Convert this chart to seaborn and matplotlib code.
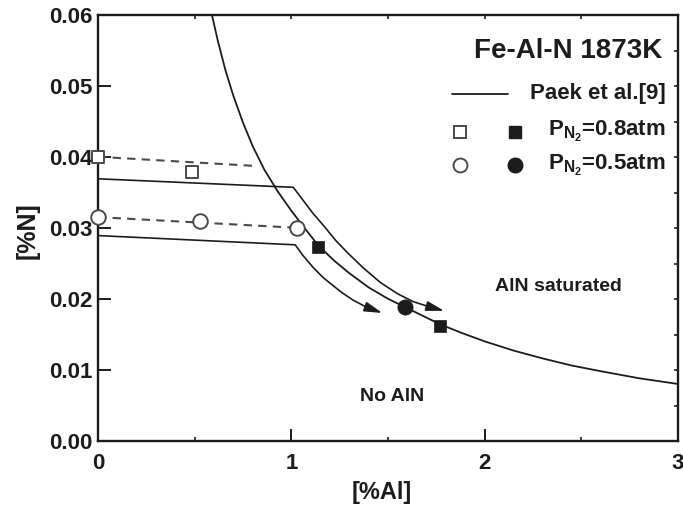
import matplotlib
matplotlib.use("Agg")
import matplotlib.pyplot as plt
import seaborn as sns
from matplotlib.lines import Line2D

# AlN solubility boundary
sat_al = [0.59, 0.62, 0.66, 0.70, 0.75, 0.80, 0.86, 0.93, 1.00, 1.07, 1.14,
          1.22, 1.30, 1.40, 1.50, 1.59, 1.68, 1.77, 1.88, 2.00, 2.15, 2.30,
          2.45, 2.60, 2.80, 3.00]
sat_n = [0.0600, 0.0564, 0.0522, 0.0487, 0.0449, 0.0416, 0.0383, 0.0352,
         0.0325, 0.0300, 0.0276, 0.0255, 0.0237, 0.0217, 0.0201, 0.0189,
         0.0177, 0.0165, 0.0153, 0.0141, 0.0128, 0.0117, 0.0107, 0.0099,
         0.0089, 0.0081]

# Paek et al. [9] paths (last point is the arrow tip)
paek_hi_al = [0.0, 1.01, 1.06, 1.11, 1.17, 1.23, 1.29, 1.37, 1.46, 1.55,
              1.63, 1.71, 1.79]
paek_hi_n = [0.0370, 0.0358, 0.0340, 0.0322, 0.0303, 0.0283, 0.0266, 0.0245,
             0.0224, 0.0208, 0.0197, 0.0190, 0.0184]
paek_lo_al = [0.0, 1.02, 1.06, 1.11, 1.16, 1.20, 1.26, 1.32, 1.39, 1.47]
paek_lo_n = [0.0290, 0.0277, 0.0262, 0.0246, 0.0232, 0.0223, 0.0210, 0.0199,
             0.0189, 0.0181]

# P_N2 = 0.8 atm
open_sq_al = [0.0, 0.485]
open_sq_n = [0.0401, 0.0379]
trend_sq_al = [0.0, 0.82]
trend_sq_n = [0.0401, 0.0388]
fill_sq_al = [1.14, 1.77]
fill_sq_n = [0.0274, 0.0163]

# P_N2 = 0.5 atm
open_ci_al = [0.0, 0.528, 1.028]
open_ci_n = [0.0316, 0.0311, 0.0301]
trend_ci_al = [0.0, 1.028]
trend_ci_n = [0.0316, 0.0301]
fill_ci_al = [1.589]
fill_ci_n = [0.0190]

x_ticks = [0, 1, 2, 3]
y_ticks = [0.00, 0.01, 0.02, 0.03, 0.04, 0.05, 0.06]

sns.set_theme(style="ticks")
plt.rcParams["font.family"] = ["Liberation Sans", "DejaVu Sans"]
plt.rcParams["font.weight"] = "bold"
plt.rcParams["mathtext.fontset"] = "custom"
plt.rcParams["mathtext.rm"] = "Liberation Sans:bold"
plt.rcParams["mathtext.it"] = "Liberation Sans:bold"
plt.rcParams["mathtext.bf"] = "Liberation Sans:bold"

INK = "#1c1c1c"
GREY = "#4a4a4a"

fig = plt.figure(figsize=(6.83, 5.18), dpi=100)
ax = fig.add_axes([0.1435, 0.1477, 0.8492, 0.8224])

# boundary and Paek paths
sns.lineplot(x=sat_al, y=sat_n, ax=ax, color=INK, lw=1.3, sort=False)
for xs, ys in [(paek_hi_al, paek_hi_n), (paek_lo_al, paek_lo_n)]:
    sns.lineplot(x=xs[:-1], y=ys[:-1], ax=ax, color=INK, lw=1.2, sort=False)
    ax.annotate("", xy=(xs[-1], ys[-1]), xytext=(xs[-2], ys[-2]),
                arrowprops=dict(arrowstyle="-|>,head_length=0.9,head_width=0.25",
                                color=INK, lw=1.2, shrinkA=0, shrinkB=0,
                                mutation_scale=12))

# dashed trends through the open symbols
sns.lineplot(x=trend_sq_al, y=trend_sq_n, ax=ax, color=GREY, lw=1.5,
             sort=False).lines[-1].set_dashes([4, 3])
sns.lineplot(x=trend_ci_al, y=trend_ci_n, ax=ax, color=GREY, lw=1.5,
             sort=False).lines[-1].set_dashes([4, 3])

# symbols
sns.scatterplot(x=open_sq_al, y=open_sq_n, ax=ax, marker="s", s=85,
                facecolor="white", edgecolor=GREY, linewidth=1.4, zorder=5,
                clip_on=False)
sns.scatterplot(x=open_ci_al, y=open_ci_n, ax=ax, marker="o", s=110,
                facecolor="white", edgecolor=GREY, linewidth=1.4, zorder=5,
                clip_on=False)
sns.scatterplot(x=fill_sq_al, y=fill_sq_n, ax=ax, marker="s", s=85,
                color=INK, edgecolor=INK, linewidth=0.5, zorder=5)
sns.scatterplot(x=fill_ci_al, y=fill_ci_n, ax=ax, marker="o", s=120,
                color=INK, edgecolor=INK, linewidth=0.5, zorder=5)

ax.set_xlim(0, 3)
ax.set_ylim(0, 0.06)
ax.set_xticks(x_ticks)
ax.set_xticklabels([str(v) for v in x_ticks])
ax.set_yticks(y_ticks)
ax.set_yticklabels([f"{v:.2f}" for v in y_ticks])
ax.set_xticks([0.5, 1.5, 2.5], minor=True)
ax.tick_params(which="major", direction="in", length=9, width=1.4,
               labelsize=16, colors=INK, pad=4)
ax.tick_params(axis="x", which="major", pad=8)
ax.tick_params(which="minor", direction="in", length=3, width=1.2, colors=INK)
for lab in ax.get_xticklabels() + ax.get_yticklabels():
    lab.set_fontweight("bold")
for sp in ax.spines.values():
    sp.set_visible(True)
    sp.set_linewidth(1.7)
    sp.set_color(INK)

top = ax.secondary_xaxis("top")
top.set_xticks([0.5, 1, 1.5, 2, 2.5])
top.tick_params(direction="in", length=3, width=1.2, labeltop=False, colors=INK)
right = ax.secondary_yaxis("right")
right.set_yticks([0.005, 0.01, 0.015, 0.02, 0.025, 0.03, 0.035, 0.04,
                  0.045, 0.05, 0.055])
right.tick_params(direction="in", length=3, width=1.2, labelright=False, colors=INK)

ax.set_xlabel("[%Al]", fontsize=17, fontweight="bold", color=INK)
ax.set_ylabel("[%N]", fontsize=18, fontweight="bold", color=INK)
ax.xaxis.set_label_coords(0.49, -0.093)
ax.yaxis.set_label_coords(-0.10, 0.496)

ax.text(2.38, 0.0218, "AlN saturated", fontsize=14, fontweight="bold",
        ha="center", va="center", color=INK)
ax.text(1.52, 0.0063, "No AlN", fontsize=14, fontweight="bold",
        ha="center", va="center", color=INK)

# title and key
ax.text(0.972, 0.916, "Fe-Al-N 1873K", transform=ax.transAxes, fontsize=20,
        fontweight="bold", ha="right", va="center", color=INK)
ax.text(0.978, 0.818, "Paek et al.[9]", transform=ax.transAxes, fontsize=16,
        fontweight="bold", ha="right", va="center", color=INK)
ax.text(0.978, 0.727, r"P$_{\mathrm{N}_{2}}$=0.8atm", transform=ax.transAxes,
        fontsize=16, fontweight="bold", ha="right", va="center", color=INK)
ax.text(0.978, 0.649, r"P$_{\mathrm{N}_{2}}$=0.5atm", transform=ax.transAxes,
        fontsize=16, fontweight="bold", ha="right", va="center", color=INK)
key = [
    Line2D([0.610, 0.707], [0.816, 0.816], color=INK, lw=1.3),
    Line2D([0.624], [0.727], marker="s", ms=9, mfc="white", mec=GREY, mew=1.4),
    Line2D([0.719], [0.727], marker="s", ms=9, mfc=INK, mec=INK),
    Line2D([0.624], [0.649], marker="o", ms=10, mfc="white", mec=GREY, mew=1.4),
    Line2D([0.719], [0.649], marker="o", ms=10.5, mfc=INK, mec=INK),
]
for art in key:
    art.set_transform(ax.transAxes)
    ax.add_line(art)

fig.savefig("out.png", dpi=100)
